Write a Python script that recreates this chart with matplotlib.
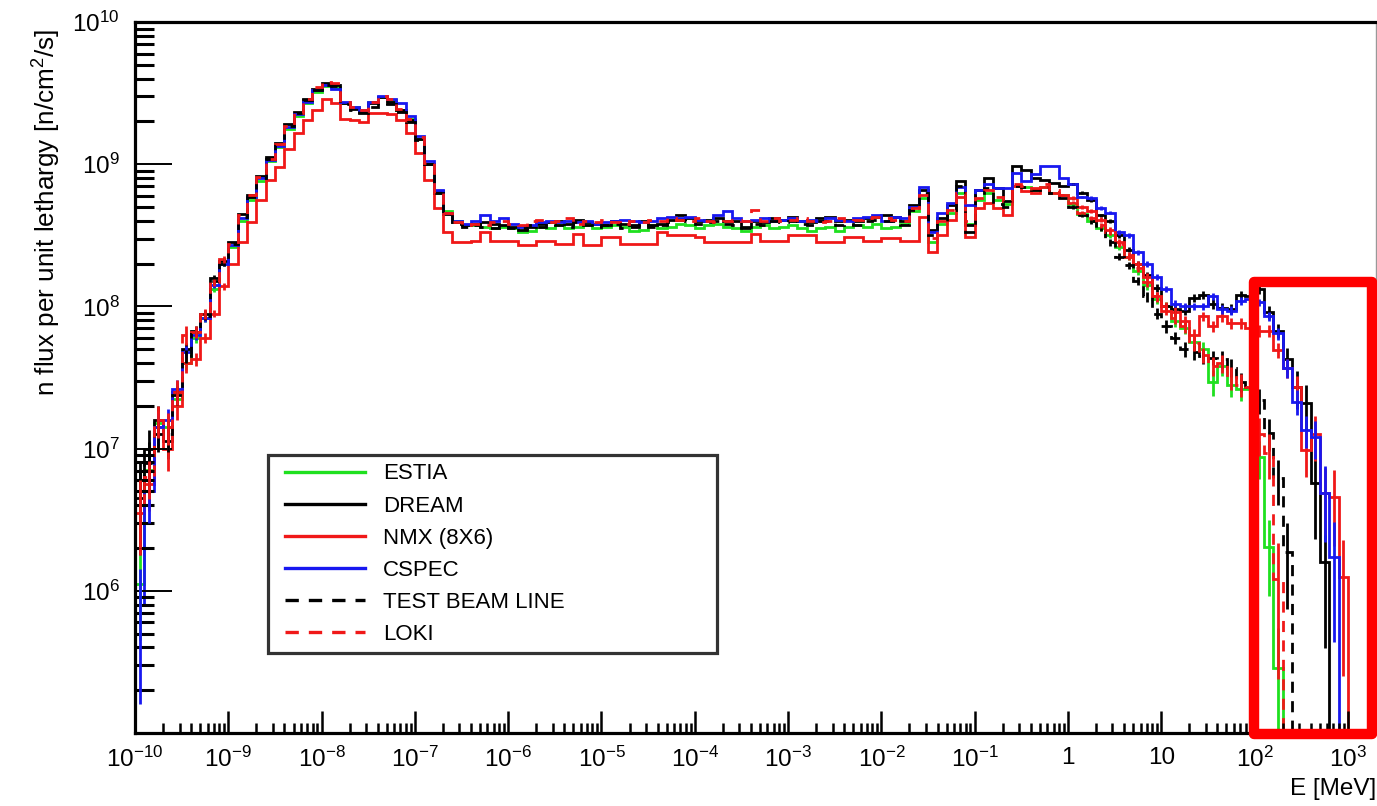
import numpy as np
import matplotlib
matplotlib.use("Agg")
import matplotlib.pyplot as plt
from matplotlib.lines import Line2D
from matplotlib.patches import Rectangle
from matplotlib.legend_handler import HandlerLine2D
from matplotlib.ticker import FixedLocator, FixedFormatter

plt.rcParams['font.family'] = ['Liberation Sans', 'DejaVu Sans']
plt.rcParams['mathtext.fontset'] = 'custom'
plt.rcParams['mathtext.rm'] = 'Liberation Sans'
plt.rcParams['mathtext.it'] = 'Liberation Sans:italic'
plt.rcParams['mathtext.bf'] = 'Liberation Sans:bold'

# ---------------- data: log10(flux per unit lethargy) per energy bin -------------
# 10 bins per decade, from 1e-10 MeV to 1e3 MeV (130 bins); 0 = empty bin
log_e_min, log_e_max, bins_per_decade = -10, 3, 10

estia = [6.05, 6.85, 7.18, 7.15, 7.35, 7.60, 7.78, 7.92, 8.12, 8.30,
         8.42, 8.60, 8.75, 8.88, 9.02, 9.12, 9.25, 9.34, 9.43, 9.51,
         9.55, 9.54, 9.43, 9.40, 9.38, 9.44, 9.47, 9.45, 9.38, 9.32,
         9.18, 9.00, 8.80, 8.67, 8.60, 8.57, 8.57, 8.56, 8.55, 8.56,
         8.55, 8.52, 8.53, 8.56, 8.55, 8.57, 8.55, 8.56, 8.57, 8.55,
         8.56, 8.57, 8.56, 8.53, 8.54, 8.57, 8.55, 8.56, 8.58, 8.57,
         8.55, 8.57, 8.58, 8.56, 8.55, 8.53, 8.56, 8.57, 8.55, 8.56,
         8.57, 8.55, 8.53, 8.55, 8.56, 8.53, 8.56, 8.57, 8.56, 8.58,
         8.55, 8.56, 8.58, 8.67, 8.76, 8.45, 8.58, 8.66, 8.80, 8.58,
         8.75, 8.80, 8.75, 8.72, 8.85, 8.84, 8.82, 8.84, 8.80, 8.78,
         8.72, 8.65, 8.60, 8.55, 8.50, 8.42, 8.35, 8.25, 8.15, 8.05,
         8.00, 7.90, 7.85, 7.75, 7.70, 7.47, 7.58, 7.45, 7.42, 7.42,
         6.94, 6.31, 5.46, 0, 0, 0, 0, 0, 0, 0]

dream = [6.65, 7.00, 7.20, 7.05, 7.40, 7.70, 7.82, 7.95, 8.20, 8.32,
         8.45, 8.65, 8.78, 8.92, 9.05, 9.15, 9.28, 9.37, 9.46, 9.53,
         9.57, 9.56, 9.43, 9.39, 9.37, 9.43, 9.47, 9.44, 9.38, 9.31,
         9.18, 9.00, 8.81, 8.65, 8.59, 8.57, 8.58, 8.59, 8.58, 8.57,
         8.56, 8.54, 8.56, 8.58, 8.59, 8.60, 8.58, 8.61, 8.59, 8.58,
         8.57, 8.60, 8.58, 8.57, 8.60, 8.57, 8.58, 8.61, 8.64, 8.62,
         8.60, 8.61, 8.62, 8.60, 8.60, 8.56, 8.60, 8.59, 8.62, 8.61,
         8.63, 8.60, 8.59, 8.62, 8.63, 8.60, 8.61, 8.60, 8.62, 8.63,
         8.64, 8.63, 8.60, 8.71, 8.82, 8.54, 8.62, 8.71, 8.88, 8.57,
         8.82, 8.90, 8.83, 8.74, 8.99, 8.96, 8.90, 8.89, 8.87, 8.85,
         8.86, 8.80, 8.75, 8.64, 8.60, 8.50, 8.40, 8.30, 8.22, 8.13,
         8.00, 7.98, 7.97, 8.06, 8.08, 8.02, 7.99, 7.98, 8.08, 8.07,
         8.12, 7.96, 7.83, 7.63, 7.43, 7.32, 6.76, 6.20, 0, 0]

nmx = [6.55, 6.75, 7.15, 7.00, 7.30, 7.60, 7.63, 7.78, 7.95, 8.14,
       8.30, 8.45, 8.59, 8.75, 8.89, 8.98, 9.11, 9.22, 9.31, 9.38,
       9.46, 9.43, 9.32, 9.31, 9.30, 9.36, 9.36, 9.35, 9.31, 9.22,
       9.08, 8.89, 8.69, 8.52, 8.45, 8.45, 8.46, 8.52, 8.46, 8.46,
       8.46, 8.43, 8.43, 8.46, 8.46, 8.44, 8.44, 8.51, 8.43, 8.43,
       8.49, 8.49, 8.44, 8.44, 8.44, 8.44, 8.52, 8.50, 8.50, 8.50,
       8.49, 8.45, 8.45, 8.45, 8.45, 8.45, 8.51, 8.46, 8.46, 8.46,
       8.50, 8.50, 8.50, 8.45, 8.45, 8.45, 8.49, 8.49, 8.46, 8.46,
       8.48, 8.48, 8.46, 8.46, 8.63, 8.38, 8.50, 8.61, 8.77, 8.49,
       8.69, 8.73, 8.69, 8.64, 8.85, 8.81, 8.80, 8.84, 8.80, 8.78,
       8.76, 8.70, 8.67, 8.61, 8.54, 8.45, 8.35, 8.30, 8.21, 8.07,
       7.97, 7.96, 7.90, 7.80, 7.93, 7.86, 7.93, 7.88, 7.88, 7.85,
       7.83, 7.83, 7.69, 7.57, 7.43, 6.99, 7.10, 6.69, 6.66, 6.10]

cspec = [5.90, 6.70, 7.15, 7.20, 7.42, 7.68, 7.80, 7.92, 8.15, 8.30,
         8.43, 8.62, 8.77, 8.90, 9.03, 9.13, 9.26, 9.35, 9.44, 9.52,
         9.56, 9.53, 9.44, 9.40, 9.38, 9.44, 9.48, 9.46, 9.43, 9.34,
         9.20, 9.02, 8.82, 8.66, 8.60, 8.58, 8.60, 8.64, 8.60, 8.62,
         8.58, 8.56, 8.57, 8.59, 8.60, 8.59, 8.60, 8.59, 8.60, 8.58,
         8.59, 8.60, 8.61, 8.60, 8.59, 8.60, 8.62, 8.63, 8.62, 8.63,
         8.61, 8.60, 8.64, 8.67, 8.62, 8.60, 8.61, 8.62, 8.60, 8.61,
         8.62, 8.60, 8.61, 8.60, 8.62, 8.61, 8.60, 8.62, 8.63, 8.64,
         8.60, 8.63, 8.62, 8.70, 8.84, 8.52, 8.66, 8.73, 8.84, 8.71,
         8.82, 8.86, 8.83, 8.83, 8.94, 8.88, 8.93, 8.99, 8.99, 8.90,
         8.86, 8.77, 8.76, 8.69, 8.66, 8.52, 8.50, 8.38, 8.30, 8.21,
         8.12, 8.02, 8.00, 8.00, 8.00, 8.07, 7.98, 7.97, 8.04, 8.05,
         8.03, 7.93, 7.81, 7.57, 7.33, 7.13, 7.08, 6.69, 6.24, 0]

test_beam_line = [6.70, 6.90, 7.10, 7.10, 7.38, 7.65, 7.83, 7.93, 8.18, 8.30,
                  8.44, 8.63, 8.77, 8.90, 9.04, 9.14, 9.27, 9.36, 9.45, 9.52,
                  9.56, 9.55, 9.42, 9.38, 9.36, 9.40, 9.43, 9.42, 9.37, 9.30,
                  9.17, 9.00, 8.80, 8.65, 8.58, 8.56, 8.57, 8.56, 8.55, 8.57,
                  8.55, 8.55, 8.57, 8.56, 8.58, 8.57, 8.56, 8.59, 8.57, 8.56,
                  8.57, 8.58, 8.55, 8.56, 8.58, 8.56, 8.57, 8.59, 8.61, 8.60,
                  8.58, 8.59, 8.60, 8.58, 8.57, 8.55, 8.58, 8.57, 8.60, 8.59,
                  8.60, 8.58, 8.57, 8.60, 8.60, 8.57, 8.58, 8.57, 8.60, 8.61,
                  8.60, 8.60, 8.57, 8.68, 8.80, 8.50, 8.60, 8.68, 8.85, 8.52,
                  8.78, 8.83, 8.72, 8.70, 8.85, 8.84, 8.82, 8.84, 8.80, 8.76,
                  8.70, 8.64, 8.60, 8.55, 8.45, 8.35, 8.29, 8.18, 8.07, 7.95,
                  7.86, 7.78, 7.70, 7.68, 7.65, 7.64, 7.63, 7.57, 7.47, 7.43,
                  7.34, 7.11, 6.79, 6.27, 0, 0, 0, 0, 0, 0]

loki = [6.60, 6.80, 7.20, 7.15, 7.40, 7.80, 7.82, 7.95, 8.17, 8.33,
        8.44, 8.64, 8.78, 8.91, 9.04, 9.14, 9.27, 9.36, 9.46, 9.54,
        9.58, 9.57, 9.44, 9.40, 9.38, 9.44, 9.48, 9.46, 9.39, 9.32,
        9.19, 9.01, 8.80, 8.66, 8.59, 8.57, 8.58, 8.57, 8.59, 8.60,
        8.58, 8.57, 8.60, 8.61, 8.59, 8.60, 8.62, 8.58, 8.60, 8.59,
        8.61, 8.59, 8.58, 8.60, 8.59, 8.61, 8.60, 8.62, 8.61, 8.60,
        8.62, 8.60, 8.59, 8.60, 8.61, 8.60, 8.68, 8.60, 8.62, 8.60,
        8.61, 8.62, 8.60, 8.59, 8.60, 8.62, 8.60, 8.61, 8.62, 8.63,
        8.62, 8.61, 8.60, 8.69, 8.78, 8.48, 8.60, 8.68, 8.80, 8.60,
        8.76, 8.82, 8.77, 8.74, 8.86, 8.85, 8.83, 8.86, 8.82, 8.78,
        8.73, 8.66, 8.62, 8.57, 8.52, 8.44, 8.36, 8.27, 8.17, 8.07,
        8.00, 7.92, 7.86, 7.74, 7.66, 7.58, 7.60, 7.50, 7.45, 7.43,
        7.10, 6.97, 6.08, 0, 0, 0, 0, 0, 0, 0]

# relative statistical errors: first 10 bins (head) and bins 100..129 (tail)
estia_err_head = [0.6, 0.35, 0.2, 0.2, 0.12, 0.1, 0.08, 0.06, 0.05, 0.04]
dream_err_head = [0.6, 0.35, 0.25, 0.25, 0.15, 0.1, 0.08, 0.06, 0.05, 0.04]
nmx_err_head = [0.5, 0.35, 0.3, 0.3, 0.2, 0.15, 0.1, 0.08, 0.06, 0.05]
cspec_err_head = [0.8, 0.4, 0.25, 0.2, 0.15, 0.1, 0.08, 0.06, 0.05, 0.04]
tbl_err_head = [0.6, 0.4, 0.25, 0.25, 0.15, 0.1, 0.08, 0.06, 0.05, 0.04]
loki_err_head = [0.5, 0.3, 0.25, 0.25, 0.2, 0.15, 0.1, 0.08, 0.06, 0.05]

estia_err_tail = [0.03, 0.03, 0.03, 0.04, 0.04, 0.05, 0.05, 0.06, 0.07, 0.08,
                  0.08, 0.10, 0.10, 0.12, 0.12, 0.20, 0.15, 0.18, 0.18, 0.20,
                  0.30, 0.55, 0.90, 0, 0, 0, 0, 0, 0, 0]
dream_err_tail = [0.02, 0.02, 0.03, 0.03, 0.03, 0.04, 0.04, 0.05, 0.05, 0.06,
                  0.06, 0.07, 0.07, 0.07, 0.07, 0.08, 0.08, 0.08, 0.07, 0.07,
                  0.07, 0.10, 0.12, 0.20, 0.30, 0.35, 0.60, 0.75, 0, 0]
nmx_err_tail = [0.03, 0.03, 0.03, 0.04, 0.04, 0.05, 0.05, 0.05, 0.06, 0.07,
                0.07, 0.08, 0.08, 0.10, 0.08, 0.09, 0.09, 0.09, 0.09, 0.10,
                0.10, 0.10, 0.12, 0.15, 0.20, 0.35, 0.35, 0.50, 0.55, 0.80]
cspec_err_tail = [0.02, 0.02, 0.03, 0.03, 0.03, 0.04, 0.04, 0.04, 0.05, 0.05,
                  0.05, 0.06, 0.06, 0.06, 0.06, 0.06, 0.07, 0.07, 0.06, 0.06,
                  0.06, 0.08, 0.10, 0.15, 0.20, 0.25, 0.30, 0.55, 0.75, 0]
tbl_err_tail = [0.03, 0.03, 0.04, 0.04, 0.05, 0.06, 0.06, 0.07, 0.08, 0.09,
                0.10, 0.10, 0.12, 0.12, 0.12, 0.12, 0.13, 0.14, 0.15, 0.16,
                0.20, 0.25, 0.35, 0.60, 0, 0, 0, 0, 0, 0]
loki_err_tail = [0.03, 0.03, 0.03, 0.04, 0.04, 0.05, 0.05, 0.06, 0.07, 0.08,
                 0.08, 0.10, 0.10, 0.12, 0.12, 0.15, 0.15, 0.18, 0.18, 0.20,
                 0.30, 0.35, 0.80, 0, 0, 0, 0, 0, 0, 0]

labels = ["ESTIA", "DREAM", "NMX (8X6)", "CSPEC", "TEST BEAM LINE", "LOKI"]
series = [estia, dream, nmx, cspec, test_beam_line, loki]
err_heads = [estia_err_head, dream_err_head, nmx_err_head, cspec_err_head, tbl_err_head, loki_err_head]
err_tails = [estia_err_tail, dream_err_tail, nmx_err_tail, cspec_err_tail, tbl_err_tail, loki_err_tail]

x_tick_labels = [r"$\mathregular{10^{-10}}$", r"$\mathregular{10^{-9}}$", r"$\mathregular{10^{-8}}$",
                 r"$\mathregular{10^{-7}}$", r"$\mathregular{10^{-6}}$", r"$\mathregular{10^{-5}}$",
                 r"$\mathregular{10^{-4}}$", r"$\mathregular{10^{-3}}$", r"$\mathregular{10^{-2}}$",
                 r"$\mathregular{10^{-1}}$", "1", "10", r"$\mathregular{10^{2}}$", r"$\mathregular{10^{3}}$"]
y_tick_labels = [r"$\mathregular{10^{6}}$", r"$\mathregular{10^{7}}$", r"$\mathregular{10^{8}}$",
                 r"$\mathregular{10^{9}}$", r"$\mathregular{10^{10}}$"]

# ---------------- styles ----------------
colors = ["#1fe01f", "#000000", "#f01818", "#1818f0", "#000000", "#f01818"]
styles = ["-", "-", "-", "-", (0, (4, 3)), (0, (4, 3))]
LW = 2.0

fig = plt.figure(figsize=(13.77, 8.06), dpi=100)
ax = fig.add_axes([0.09804, 0.0906, 0.9012, 0.8821])

n_bins = (log_e_max - log_e_min) * bins_per_decade
edges = np.logspace(log_e_min, log_e_max, n_bins + 1)
centers = np.sqrt(edges[:-1] * edges[1:])

for vals, eh, et, c, ls, lab in zip(series, err_heads, err_tails, colors, styles, labels):
    flux = 10.0 ** np.asarray(vals, dtype=float)
    ax.stairs(flux, edges, baseline=1.0, color=c, linestyle=ls, linewidth=LW, label=lab)
    rel = np.zeros(n_bins)
    rel[:len(eh)] = eh
    rel[100:100 + len(et)] = et
    m = rel > 0
    lo = np.minimum(flux[m] * rel[m], flux[m] * 0.999)
    hi = flux[m] * rel[m]
    ax.errorbar(centers[m], flux[m], yerr=[lo, hi], fmt="none", ecolor=c, elinewidth=LW, capsize=0)

ax.set_xscale("log")
ax.set_yscale("log")
ax.set_xlim(1e-10, 2.0e3)
ax.set_ylim(1e5, 1e10)

# ticks (ROOT-like, inward)
xmaj = [10.0 ** k for k in range(-10, 4)]
ax.xaxis.set_major_locator(FixedLocator(xmaj))
ax.xaxis.set_major_formatter(FixedFormatter(x_tick_labels))
xmin = [m * 10.0 ** k for k in range(-10, 4) for m in range(2, 10)]
ax.xaxis.set_minor_locator(FixedLocator(xmin))
ax.xaxis.set_minor_formatter(FixedFormatter([""] * len(xmin)))
ymaj = [1e6, 1e7, 1e8, 1e9, 1e10]
ax.yaxis.set_major_locator(FixedLocator(ymaj))
ax.yaxis.set_major_formatter(FixedFormatter(y_tick_labels))
ymin = [m * 10.0 ** k for k in range(5, 10) for m in range(2, 10)]
ax.yaxis.set_minor_locator(FixedLocator(ymin))
ax.yaxis.set_minor_formatter(FixedFormatter([""] * len(ymin)))

ax.tick_params(axis="x", which="major", direction="in", length=15.5, width=1.8, labelsize=17.5, pad=10,
               top=False, bottom=True)
ax.tick_params(axis="x", which="minor", direction="in", length=7.5, width=1.8, top=False, bottom=True)
ax.tick_params(axis="y", which="major", direction="in", length=26.5, width=1.4, labelsize=17.5, pad=11,
               right=False, left=True)
ax.tick_params(axis="y", which="minor", direction="in", length=13.5, width=2.2, right=False, left=True)

for side in ["left", "bottom", "top"]:
    ax.spines[side].set_linewidth(2.3)
ax.spines["right"].set_linewidth(1.0)
ax.spines["right"].set_color("#999999")

ax.set_ylabel("n flux per unit lethargy [n/cm$^{2}$/s]", fontsize=18.8, loc="top")
ax.yaxis.set_label_coords(-0.058, 0.99)
ax.set_xlabel("E [MeV]", fontsize=17.5, loc="right")
ax.xaxis.set_label_coords(1.0, -0.064)

handles = [Line2D([], [], color=c, linestyle=ls, linewidth=2.4) for c, ls in zip(colors, styles)]
leg = ax.legend(handles, labels, loc="upper left", bbox_to_anchor=(0.107, 0.114, 0.362, 0.277),
                mode="expand", fontsize=16, frameon=True, fancybox=False, edgecolor="black",
                handlelength=4.0, handletextpad=0.8, labelspacing=0.5, borderpad=0.38,
                borderaxespad=0.0, handler_map={Line2D: HandlerLine2D(xpad=0.4)})
leg.get_frame().set_linewidth(2.3)

# highlight box over the high-energy tail
ax.add_patch(Rectangle((0.902, -0.0014), 0.0948, 0.6354, transform=ax.transAxes, fill=False,
                       edgecolor="#ff0000", linewidth=7.5, joinstyle="round", clip_on=False, zorder=10))

fig.savefig("out.png", dpi=100)
